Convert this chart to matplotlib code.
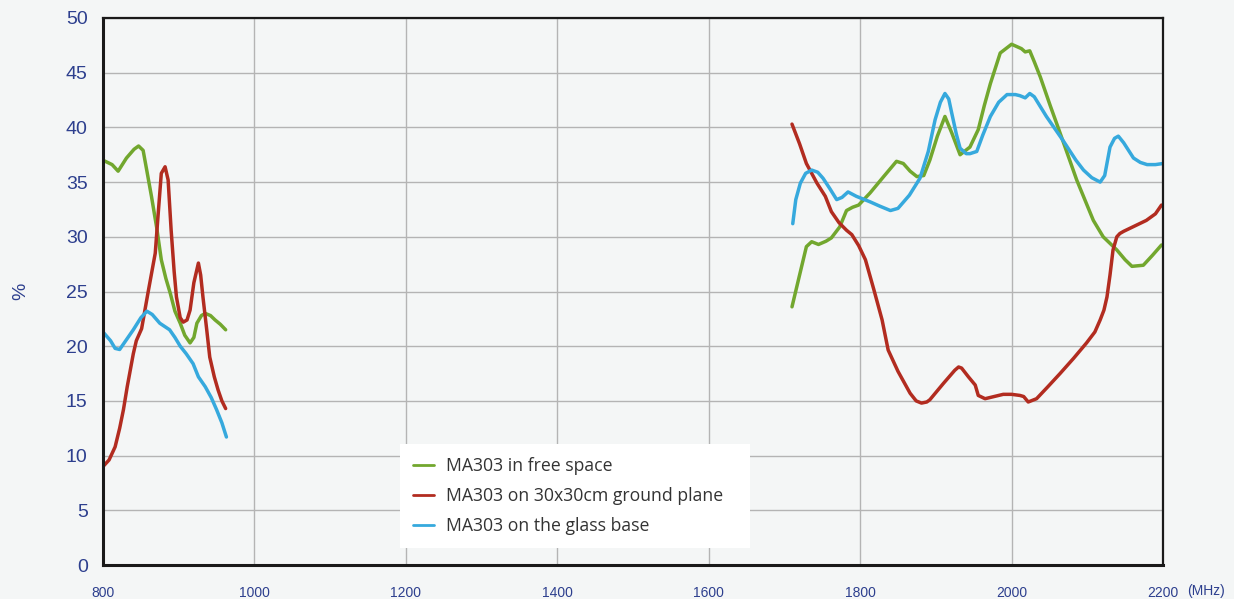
import matplotlib.pyplot as plt

# left band (800-965 MHz)
green_lo_x = [800, 812, 820, 831, 841, 847, 853, 858, 864, 871, 877, 883, 889, 895, 902, 908, 915, 920, 924, 930, 935, 942, 948, 955, 962]
green_lo_y = [37.0, 36.6, 36.0, 37.2, 38.0, 38.3, 37.9, 36.0, 33.7, 30.8, 27.9, 26.2, 24.8, 23.2, 22.1, 21.0, 20.3, 20.8, 22.1, 22.8, 23.0, 22.8, 22.4, 22.0, 21.5]
red_lo_x = [800, 808, 816, 822, 827, 832, 836, 840, 844, 851, 860, 869, 873, 877, 882, 886, 890, 894, 897, 902, 906, 911, 915, 920, 926, 929, 932, 937, 941, 947, 952, 957, 962]
red_lo_y = [9.0, 9.6, 10.8, 12.5, 14.2, 16.3, 17.8, 19.3, 20.5, 21.6, 25.1, 28.5, 32.2, 35.8, 36.4, 35.2, 30.6, 26.8, 24.5, 22.6, 22.2, 22.4, 23.3, 25.8, 27.6, 26.5, 24.5, 21.5, 19.0, 17.2, 16.0, 15.0, 14.3]
blue_lo_x = [800, 810, 816, 822, 830, 840, 850, 858, 865, 875, 888, 895, 902, 910, 919, 926, 935, 943, 950, 957, 963]
blue_lo_y = [21.3, 20.5, 19.8, 19.7, 20.5, 21.5, 22.6, 23.2, 22.9, 22.1, 21.5, 20.8, 20.0, 19.3, 18.4, 17.2, 16.3, 15.3, 14.2, 13.0, 11.7]

# right band (1710-2200 MHz)
green_hi_x = [1710, 1720, 1729, 1736, 1745, 1755, 1762, 1773, 1782, 1790, 1798, 1813, 1831, 1848, 1857, 1866, 1875, 1884, 1892, 1902, 1912, 1921, 1932, 1945, 1956, 1964, 1972, 1985, 2000, 2013, 2018, 2024, 2030, 2038, 2051, 2064, 2086, 2108, 2121, 2139, 2150, 2159, 2174, 2186, 2198]
green_hi_y = [23.6, 26.5, 29.1, 29.55, 29.3, 29.6, 29.9, 30.9, 32.4, 32.7, 32.9, 34.0, 35.5, 36.9, 36.7, 36.0, 35.5, 35.6, 37.0, 39.2, 41.0, 39.5, 37.5, 38.2, 39.8, 42.0, 44.0, 46.8, 47.6, 47.2, 46.9, 47.0, 46.0, 44.6, 42.0, 39.5, 35.2, 31.5, 30.0, 28.8, 27.9, 27.3, 27.4, 28.3, 29.25]
red_hi_x = [1710, 1720, 1729, 1743, 1754, 1762, 1772, 1782, 1789, 1798, 1807, 1818, 1829, 1837, 1850, 1866, 1874, 1881, 1888, 1892, 1910, 1925, 1930, 1934, 1943, 1952, 1956, 1965, 1989, 2000, 2011, 2016, 2022, 2033, 2048, 2064, 2082, 2099, 2110, 2117, 2122, 2126, 2130, 2134, 2139, 2143, 2148, 2163, 2178, 2190, 2198]
red_hi_y = [40.3, 38.5, 36.7, 34.9, 33.7, 32.3, 31.3, 30.6, 30.2, 29.2, 27.9, 25.2, 22.4, 19.65, 17.7, 15.7, 15.0, 14.8, 14.9, 15.1, 16.6, 17.8, 18.1, 18.0, 17.2, 16.45, 15.5, 15.2, 15.6, 15.6, 15.5, 15.4, 14.9, 15.2, 16.3, 17.5, 18.9, 20.3, 21.3, 22.4, 23.3, 24.5, 26.5, 28.8, 30.0, 30.3, 30.5, 31.0, 31.5, 32.1, 32.9]
blue_hi_x = [1711, 1715, 1721, 1728, 1736, 1744, 1751, 1760, 1769, 1776, 1784, 1795, 1813, 1826, 1840, 1850, 1865, 1879, 1890, 1899, 1906, 1912, 1917, 1921, 1927, 1932, 1940, 1945, 1954, 1962, 1972, 1983, 1994, 2005, 2011, 2018, 2024, 2030, 2046, 2068, 2085, 2095, 2106, 2117, 2123, 2130, 2136, 2141, 2148, 2161, 2170, 2179, 2190, 2200]
blue_hi_y = [31.2, 33.4, 34.9, 35.8, 36.1, 35.9, 35.35, 34.4, 33.4, 33.6, 34.1, 33.7, 33.2, 32.8, 32.4, 32.6, 33.8, 35.35, 37.8, 40.7, 42.3, 43.1, 42.6, 41.3, 39.4, 38.1, 37.6, 37.6, 37.8, 39.3, 41.0, 42.3, 43.0, 43.0, 42.9, 42.7, 43.1, 42.8, 41.0, 38.8, 37.0, 36.1, 35.4, 35.0, 35.6, 38.2, 39.0, 39.2, 38.6, 37.2, 36.8, 36.6, 36.6, 36.7]

labels = ["MA303 in free space", "MA303 on 30x30cm ground plane", "MA303 on the glass base"]
colors = ["#72a72e", "#b22c20", "#36a9dd"]
x_ticks = [800, 1000, 1200, 1400, 1600, 1800, 2000, 2200]
y_ticks = list(range(0, 51, 5))

navy = "#2d3f8e"
bg = "#f4f6f6"

fig = plt.figure(figsize=(12.34, 5.99), dpi=100, facecolor=bg)
ax = fig.add_axes([103 / 1234, 34 / 599, 1060 / 1234, 547 / 599])
ax.set_facecolor(bg)

lw = 2.5
ax.plot(green_lo_x, green_lo_y, color=colors[0], lw=lw, label=labels[0], solid_capstyle="round", solid_joinstyle="round")
ax.plot(red_lo_x, red_lo_y, color=colors[1], lw=lw, label=labels[1], solid_capstyle="round", solid_joinstyle="round")
ax.plot(blue_lo_x, blue_lo_y, color=colors[2], lw=lw, label=labels[2], solid_capstyle="round", solid_joinstyle="round")
ax.plot(green_hi_x, green_hi_y, color=colors[0], lw=lw, solid_capstyle="round", solid_joinstyle="round")
ax.plot(red_hi_x, red_hi_y, color=colors[1], lw=lw, solid_capstyle="round", solid_joinstyle="round")
ax.plot(blue_hi_x, blue_hi_y, color=colors[2], lw=lw, solid_capstyle="round", solid_joinstyle="round")

ax.set_xlim(800, 2200)
ax.set_ylim(0, 50)
ax.set_xticks(x_ticks)
ax.set_yticks(y_ticks)
ax.grid(True, color="#b4b4b4", lw=1.0)
ax.set_axisbelow(True)

ax.tick_params(axis="x", length=0, pad=15, labelsize=10, labelcolor=navy)
ax.tick_params(axis="y", length=0, pad=11, labelsize=14, labelcolor=navy)
for t in ax.get_xticklabels() + ax.get_yticklabels():
    t.set_fontfamily("Liberation Sans")
for s in ax.spines.values():
    s.set_color("#1a1a1a")
    s.set_linewidth(1.6)
ax.spines["left"].set_linewidth(2.2)
ax.spines["bottom"].set_linewidth(2.2)

ax.set_ylabel("%", color=navy, fontsize=14, family="Liberation Sans", labelpad=26)
fig.text(1206 / 1234, 1 - 591 / 599, "(MHz)", color=navy, fontsize=10,
         family="Liberation Sans", ha="center", va="center")

leg = ax.legend(loc="lower left", bbox_to_anchor=(297 / 1060, 17 / 547, 350 / 1060, 108 / 547),
                mode="expand", frameon=True, fancybox=False, framealpha=1,
                edgecolor="none", facecolor="white", borderaxespad=0,
                handlelength=1.15, handletextpad=0.7, labelspacing=0.66, borderpad=0.75,
                prop={"family": "Open Sans", "size": 12.7})
for t in leg.get_texts():
    t.set_color("#333333")
for h in leg.get_lines():
    h.set_linewidth(2.0)

fig.savefig("out.png", dpi=100, facecolor=bg)
